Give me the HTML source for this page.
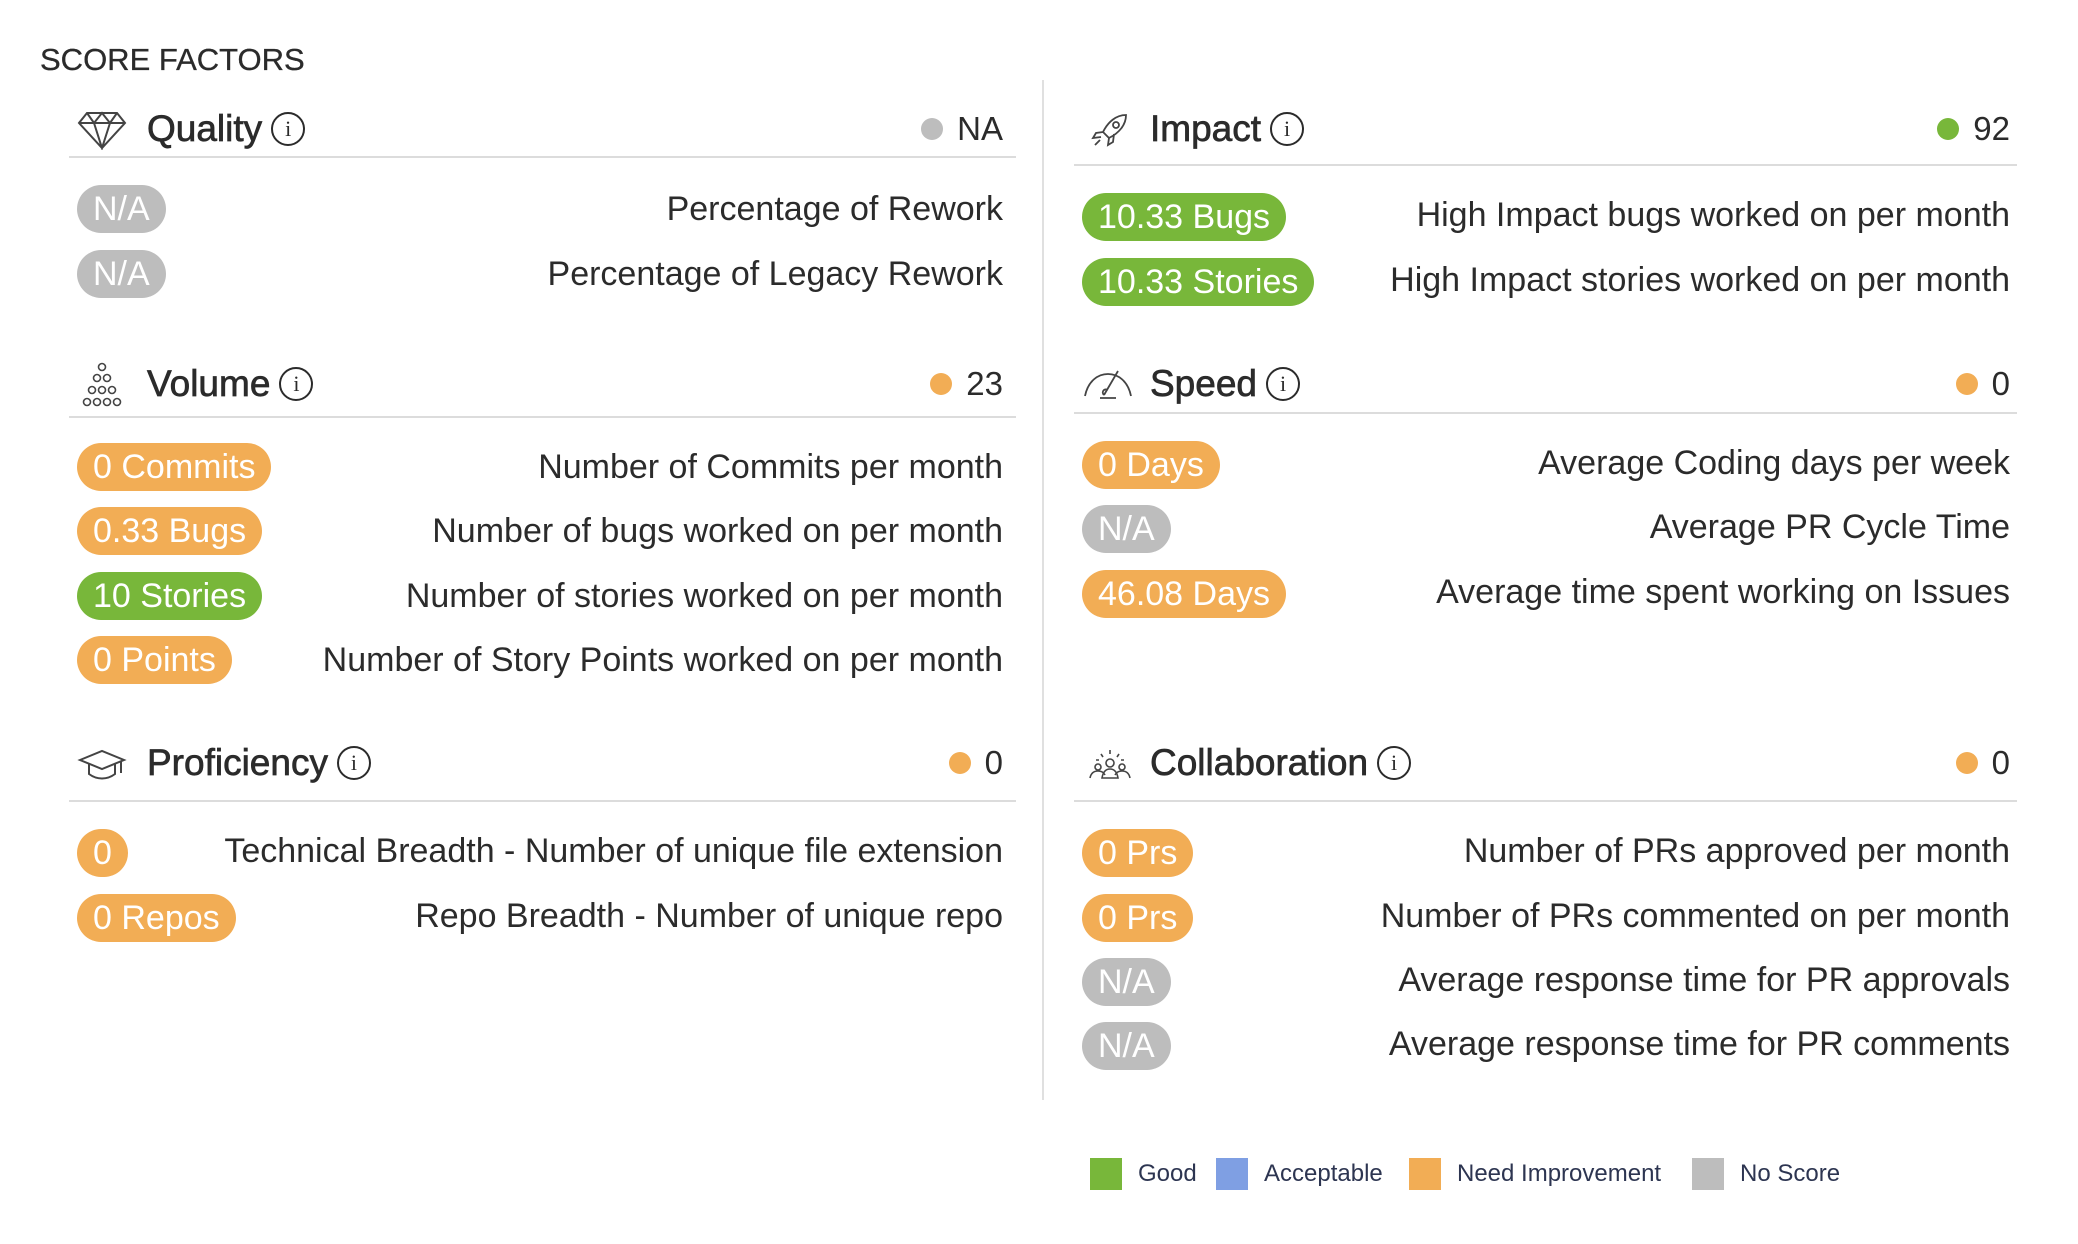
<!DOCTYPE html>
<html><head><meta charset="utf-8">
<style>
*{margin:0;padding:0;box-sizing:border-box}
body{width:2078px;height:1244px;background:#fff;position:relative;overflow:hidden;font-family:"Liberation Sans",sans-serif;color:#2b2b2b}
.abs{position:absolute}
.title{left:40px;top:40px;font-size:31px;line-height:40px;color:#2b2b2b;-webkit-text-stroke:0.3px #2b2b2b}
.hdr{position:absolute;height:44px;display:flex;align-items:center}
.hname{font-size:37px;line-height:44px;-webkit-text-stroke:0.7px #2b2b2b;color:#2b2b2b}
.info{width:34px;height:34px;border:2.5px solid #2b2b2b;border-radius:50%;margin-left:9px;display:flex;align-items:center;justify-content:center;font-size:22px;font-family:"Liberation Serif",serif;color:#2b2b2b}
.score{position:absolute;height:44px;display:flex;align-items:center;font-size:33px;color:#2b2b2b}
.dot{width:22px;height:22px;border-radius:50%;margin-right:14px}
.line{position:absolute;height:2px;background:#dcdcdc}
.pill{position:absolute;height:48px;line-height:48px;padding:0 16px;border-radius:24px;color:#fff;font-size:34px;white-space:nowrap}
.lbl{position:absolute;height:48px;line-height:48px;font-size:34px;color:#2b2b2b;text-align:right;white-space:nowrap}
.g{background:#78b73a}.o{background:#f2ad55}.n{background:#bdbdbd}.b{background:#7f9fe3}
.leg{position:absolute;top:1163px;width:32px;height:32px}
.legt{position:absolute;top:1163px;height:32px;line-height:32px;font-size:24px;color:#2d3551}
</style></head><body>
<div class="abs title">SCORE FACTORS</div>
<div class="abs" style="left:1042px;top:80px;width:2px;height:1020px;background:#e0e0e0"></div>

<!-- Quality -->
<svg class="abs" style="left:77px;top:110px" width="50" height="40" viewBox="0 0 50 40" fill="none" stroke="#444" stroke-width="2"><path d="M10 3h30l8 10-23 25L2 13z M2 13h46 M10 3l7 10 8-10 8 10 7-10 M17 13l8 25 8-25"/></svg>
<div class="hdr" style="left:147px;top:107px"><span class="hname">Quality</span><span class="info">i</span></div>
<div class="score" style="right:1075px;top:107px"><span class="dot n"></span>NA</div>
<div class="line" style="left:69px;width:947px;top:156px"></div>
<div class="pill n" style="left:77px;top:185px">N/A</div>
<div class="lbl" style="right:1075px;top:185px">Percentage of Rework</div>
<div class="pill n" style="left:77px;top:250px">N/A</div>
<div class="lbl" style="right:1075px;top:250px">Percentage of Legacy Rework</div>

<!-- Volume -->
<svg class="abs" style="left:77px;top:362px" width="50" height="48" viewBox="0 0 50 48" fill="none" stroke="#444" stroke-width="1.6"><circle cx="25" cy="5" r="3.5"/><circle cx="20" cy="16" r="3.5"/><circle cx="30" cy="16" r="3.5"/><circle cx="15" cy="28" r="3.5"/><circle cx="25" cy="28" r="3.5"/><circle cx="35" cy="28" r="3.5"/><circle cx="10" cy="40" r="3.5"/><circle cx="20" cy="40" r="3.5"/><circle cx="30" cy="40" r="3.5"/><circle cx="40" cy="40" r="3.5"/></svg>
<div class="hdr" style="left:147px;top:362px"><span class="hname">Volume</span><span class="info">i</span></div>
<div class="score" style="right:1075px;top:362px"><span class="dot o"></span>23</div>
<div class="line" style="left:69px;width:947px;top:416px"></div>
<div class="pill o" style="left:77px;top:443px">0 Commits</div>
<div class="lbl" style="right:1075px;top:443px">Number of Commits per month</div>
<div class="pill o" style="left:77px;top:507px">0.33 Bugs</div>
<div class="lbl" style="right:1075px;top:507px">Number of bugs worked on per month</div>
<div class="pill g" style="left:77px;top:572px">10 Stories</div>
<div class="lbl" style="right:1075px;top:572px">Number of stories worked on per month</div>
<div class="pill o" style="left:77px;top:636px">0 Points</div>
<div class="lbl" style="right:1075px;top:636px">Number of Story Points worked on per month</div>

<!-- Proficiency -->
<svg class="abs" style="left:77px;top:748px" width="50" height="34" viewBox="0 0 50 34" fill="none" stroke="#444" stroke-width="2"><path d="M3 12L25 3l22 9-22 9z M12 16v10c8 6 18 6 26 0V16 M44 13v12"/></svg>
<div class="hdr" style="left:147px;top:741px"><span class="hname">Proficiency</span><span class="info">i</span></div>
<div class="score" style="right:1075px;top:741px"><span class="dot o"></span>0</div>
<div class="line" style="left:69px;width:947px;top:800px"></div>
<div class="pill o" style="left:77px;top:829px">0</div>
<div class="lbl" style="right:1075px;top:827px">Technical Breadth - Number of unique file extension</div>
<div class="pill o" style="left:77px;top:894px">0 Repos</div>
<div class="lbl" style="right:1075px;top:892px">Repo Breadth - Number of unique repo</div>

<!-- Impact -->
<svg class="abs" style="left:1090px;top:112px" width="40" height="36" viewBox="0 0 40 36" fill="none" stroke="#444" stroke-width="1.8"><path d="M36 3C26 3 18 10 13 20l6 6c10-5 17-13 17-23z M13 20l-7 1-3 5 8-1 M19 26l-1 7 5-3 1-8 M10 28l-5 5"/><circle cx="26" cy="13" r="3"/></svg>
<div class="hdr" style="left:1150px;top:107px"><span class="hname">Impact</span><span class="info">i</span></div>
<div class="score" style="right:68px;top:107px"><span class="dot g"></span>92</div>
<div class="line" style="left:1074px;width:943px;top:164px"></div>
<div class="pill g" style="left:1082px;top:193px">10.33 Bugs</div>
<div class="lbl" style="right:68px;top:191px">High Impact bugs worked on per month</div>
<div class="pill g" style="left:1082px;top:258px">10.33 Stories</div>
<div class="lbl" style="right:68px;top:256px">High Impact stories worked on per month</div>

<!-- Speed -->
<svg class="abs" style="left:1082px;top:366px" width="52" height="36" viewBox="0 0 52 36" fill="none" stroke="#444" stroke-width="1.8"><path d="M3 30C6 15 16 8 26 8s20 7 23 22 M18 32h16 M22 29l14-24 M22 29c-3-3 0-7 4-5"/></svg>
<div class="hdr" style="left:1150px;top:362px"><span class="hname">Speed</span><span class="info">i</span></div>
<div class="score" style="right:68px;top:362px"><span class="dot o"></span>0</div>
<div class="line" style="left:1074px;width:943px;top:412px"></div>
<div class="pill o" style="left:1082px;top:441px">0 Days</div>
<div class="lbl" style="right:68px;top:439px">Average Coding days per week</div>
<div class="pill n" style="left:1082px;top:505px">N/A</div>
<div class="lbl" style="right:68px;top:503px">Average PR Cycle Time</div>
<div class="pill o" style="left:1082px;top:570px">46.08 Days</div>
<div class="lbl" style="right:68px;top:568px">Average time spent working on Issues</div>

<!-- Collaboration -->
<svg class="abs" style="left:1088px;top:748px" width="44" height="32" viewBox="0 0 44 32" fill="none" stroke="#444" stroke-width="1.6"><circle cx="22" cy="15" r="4"/><circle cx="10" cy="19" r="3"/><circle cx="34" cy="19" r="3"/><path d="M2 30c1-5 4-7 8-7s6 2 7 4 M42 30c-1-5-4-7-8-7s-6 2-7 4 M14 30c1-6 4-9 8-9s7 3 8 9z M22 2v4 M13 6l2 3 M31 6l-2 3 M8 12h3 M33 12h3"/></svg>
<div class="hdr" style="left:1150px;top:741px"><span class="hname">Collaboration</span><span class="info">i</span></div>
<div class="score" style="right:68px;top:741px"><span class="dot o"></span>0</div>
<div class="line" style="left:1074px;width:943px;top:800px"></div>
<div class="pill o" style="left:1082px;top:829px">0 Prs</div>
<div class="lbl" style="right:68px;top:827px">Number of PRs approved per month</div>
<div class="pill o" style="left:1082px;top:894px">0 Prs</div>
<div class="lbl" style="right:68px;top:892px">Number of PRs commented on per month</div>
<div class="pill n" style="left:1082px;top:958px">N/A</div>
<div class="lbl" style="right:68px;top:956px">Average response time for PR approvals</div>
<div class="pill n" style="left:1082px;top:1022px">N/A</div>
<div class="lbl" style="right:68px;top:1020px">Average response time for PR comments</div>

<!-- Legend -->
<div class="leg g" style="left:1090px;top:1158px"></div>
<div class="legt" style="left:1138px;top:1158px">Good</div>
<div class="leg b" style="left:1216px;top:1158px"></div>
<div class="legt" style="left:1264px;top:1158px">Acceptable</div>
<div class="leg o" style="left:1409px;top:1158px"></div>
<div class="legt" style="left:1457px;top:1158px">Need Improvement</div>
<div class="leg n" style="left:1692px;top:1158px"></div>
<div class="legt" style="left:1740px;top:1158px">No Score</div>
</body></html>
